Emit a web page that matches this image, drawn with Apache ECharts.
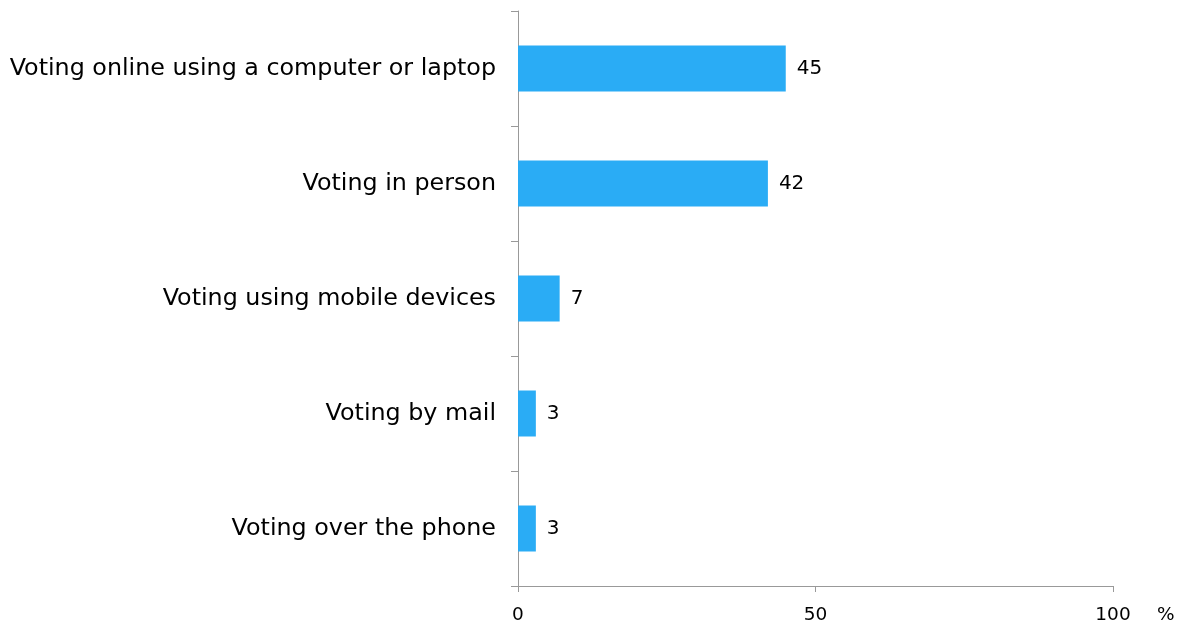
<!DOCTYPE html>
<html><head><meta charset="utf-8">
<script src="https://cdn.jsdelivr.net/npm/echarts@6/dist/echarts.min.js"></script>
<style>html,body{margin:0;padding:0;background:#fff}#c{width:1184px;height:625px}</style>
</head><body><div id="c"></div>
<script>
const categories = ["Voting online using a computer or laptop","Voting in person","Voting using mobile devices","Voting by mail","Voting over the phone"];
const values = [45, 42, 7, 3, 3];
const xTicks = [0, 50, 100];
const font = 'DejaVu Sans, Verdana, sans-serif';
const chart = echarts.init(document.getElementById('c'));
chart.setOption({
  animation: false,
  grid: {left: 518, right: 71, top: 11, bottom: 38, containLabel: false},
  xAxis: {
    type: 'value', min: 0, max: 100, interval: 50,
    name: '%', nameLocation: 'end', nameGap: 44,
    nameTextStyle: {fontFamily: font, fontSize: 18.5, color: '#000', verticalAlign: 'top', padding: [20, 0, 0, 0]},
    axisLine: {show: true, lineStyle: {color: '#999', width: 1}},
    axisTick: {show: true, length: 6, lineStyle: {color: '#999'}},
    splitLine: {show: false},
    axisLabel: {fontFamily: font, fontSize: 18.5, color: '#000', margin: 20,
      formatter: v => xTicks.includes(v) ? String(v) : ''}
  },
  yAxis: {
    type: 'category', data: categories, inverse: true,
    axisLine: {show: true, lineStyle: {color: '#999', width: 1}},
    axisTick: {show: true, length: 7, lineStyle: {color: '#999'}},
    axisLabel: {fontFamily: font, fontSize: 23.8, color: '#000', margin: 22}
  },
  series: [{
    type: 'bar', data: values, barWidth: 46,
    itemStyle: {color: '#2aacf5'},
    label: {show: true, position: 'right', distance: 11, fontFamily: font, fontSize: 20, color: '#000'}
  }]
});
</script></body></html>
